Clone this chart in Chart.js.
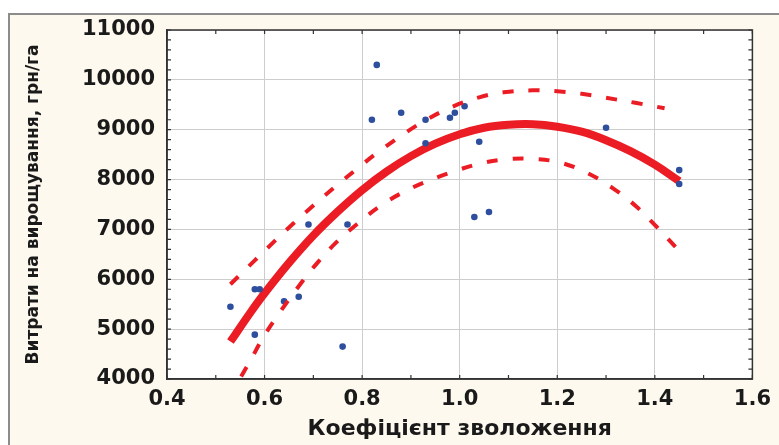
<!DOCTYPE html>
<html>
<head>
<meta charset="utf-8">
<script src="https://cdn.jsdelivr.net/npm/chart.js@4.4.1/dist/chart.umd.min.js"></script>
<style>
  html, body { margin: 0; padding: 0; background: #ffffff; }
  .frame {
    position: absolute; left: 8px; top: 13px; width: 800px; height: 460px;
    border-top: 2px solid #8c8c8c; border-left: 2px solid #8c8c8c;
    background: #fdf9ee;
  }
  .wrap { position: absolute; left: 0; top: 0; width: 779px; height: 445px; }
</style>
</head>
<body>
<div class="frame"></div>
<div class="wrap"><canvas id="chart" width="779" height="445"></canvas></div>
<script>
// observed points: moisture coefficient vs growing cost
const moistureX = [0.53, 0.58, 0.58, 0.59, 0.64, 0.67, 0.69, 0.76, 0.77, 0.82, 0.83, 0.88,
  0.93, 0.93, 0.98, 0.99, 1.01, 1.03, 1.04, 1.06, 1.30, 1.45, 1.45];
const costY = [5450, 4890, 5800, 5800, 5560, 5650, 7100, 4650, 7100, 9200, 10300, 9340,
  8730, 9200, 9240, 9340, 9470, 7250, 8760, 7350, 9040, 8190, 7910];

// fitted curve
const fitX = [0.53, 0.57, 0.60, 0.65, 0.70, 0.75, 0.80, 0.85, 0.90, 0.95, 1.00, 1.05,
  1.10, 1.15, 1.20, 1.25, 1.30, 1.35, 1.40, 1.45];
const fitY = [4750, 5320, 5720, 6330, 6880, 7360, 7790, 8160, 8470, 8720, 8910, 9040,
  9100, 9110, 9060, 8960, 8790, 8570, 8300, 7970];

// confidence band (dashed)
const upX = [0.53, 0.58, 0.62, 0.66, 0.70, 0.745, 0.79, 0.83, 0.88, 0.93, 0.985, 1.04,
  1.09, 1.15, 1.20, 1.25, 1.30, 1.36, 1.42];
const upY = [5900, 6380, 6760, 7130, 7480, 7860, 8220, 8530, 8880, 9190, 9460, 9650,
  9750, 9790, 9770, 9720, 9640, 9540, 9430];
const lowX = [0.552, 0.572, 0.594, 0.62, 0.677, 0.71, 0.748, 0.79, 0.837, 0.887, 0.942,
  0.996, 1.05, 1.10, 1.155, 1.206, 1.26, 1.315, 1.362, 1.403, 1.445];
const lowY = [4050, 4390, 4780, 5180, 5950, 6350, 6750, 7110, 7470, 7760, 8000,
  8190, 8340, 8410, 8410, 8340, 8140, 7820, 7460, 7060, 6620];

const xTitle = "Коефіцієнт зволоження";
const yTitle = "Витрати на вирощування, грн/га";

const toPoints = (xs, ys) => xs.map((x, i) => ({ x: x, y: ys[i] }));

const fontFamily = "'DejaVu Sans', sans-serif";
const red = "#ec1c24";

// white plot area, frame and small inward ticks
const plotFrame = {
  id: "plotFrame",
  beforeDatasetsDraw(chart) {
    const { ctx, chartArea: a } = chart;
    ctx.save();
    ctx.globalCompositeOperation = "destination-over";
    ctx.fillStyle = "#ffffff";
    ctx.fillRect(a.left, a.top, a.right - a.left, a.bottom - a.top);
    ctx.restore();
  },
  afterDraw(chart) {
    const { ctx, chartArea: a, scales } = chart;
    ctx.save();
    ctx.strokeStyle = "#333333";
    ctx.lineWidth = 1.5;
    ctx.strokeRect(a.left, a.top, a.right - a.left, a.bottom - a.top);
    ctx.lineWidth = 1.2;
    ctx.beginPath();
    for (let v = 4; v <= 16; v++) {
      const px = scales.x.getPixelForValue(v / 10);
      ctx.moveTo(px, a.bottom); ctx.lineTo(px, a.bottom - 4);
      ctx.moveTo(px, a.top); ctx.lineTo(px, a.top + 4);
    }
    for (let v = 4000; v <= 11000; v += 200) {
      const py = scales.y.getPixelForValue(v);
      ctx.moveTo(a.left, py); ctx.lineTo(a.left + 4, py);
      ctx.moveTo(a.right, py); ctx.lineTo(a.right - 4, py);
    }
    ctx.stroke();
    ctx.restore();
  },
};

new Chart(document.getElementById("chart"), {
  type: "scatter",
  data: {
    datasets: [
      {
        label: "upper",
        data: toPoints(upX, upY),
        showLine: true,
        borderColor: red,
        borderWidth: 4,
        borderDash: [11, 15],
        pointRadius: 0,
        tension: 0.4,
        order: 0,
      },
      {
        label: "lower",
        data: toPoints(lowX, lowY),
        showLine: true,
        borderColor: red,
        borderWidth: 4,
        borderDash: [11, 15],
        pointRadius: 0,
        tension: 0.4,
        order: 0,
      },
      {
        label: "points",
        data: toPoints(moistureX, costY),
        pointRadius: 3.3,
        pointBackgroundColor: "#2d4f9e",
        pointBorderWidth: 0,
        order: 1,
      },
      {
        label: "fit",
        data: toPoints(fitX, fitY),
        showLine: true,
        borderColor: red,
        borderWidth: 8,
        pointRadius: 0,
        tension: 0.4,
        order: 2,
      },
    ],
  },
  options: {
    responsive: false,
    animation: false,
    devicePixelRatio: 1,
    layout: { padding: { left: 0, top: 30, right: 22, bottom: 0 } },
    plugins: {
      legend: { display: false },
      tooltip: { enabled: false },
    },
    scales: {
      x: {
        type: "linear",
        min: 0.4,
        max: 1.6,
        afterFit: (scale) => { scale.height = 66; },
        ticks: {
          stepSize: 0.2,
          autoSkip: false,
          maxRotation: 0,
          padding: 8,
          color: "#1a1a1a",
          font: { family: fontFamily, size: 21, weight: "bold" },
          callback: (v) => Number(v).toFixed(1),
        },
        grid: { color: "#cdcdcd", lineWidth: 1, drawTicks: false },
        border: { display: true, color: "#333333", width: 1.5 },
        title: {
          display: true,
          text: xTitle,
          color: "#1a1a1a",
          font: { family: fontFamily, size: 22, weight: "bold" },
          padding: { top: 0, bottom: 3 },
        },
      },
      y: {
        min: 4000,
        max: 11000,
        afterFit: (scale) => { scale.width = 167; },
        ticks: {
          stepSize: 1000,
          padding: 12,
          color: "#1a1a1a",
          font: { family: fontFamily, size: 21, weight: "bold" },
          callback: (v) => String(v),
        },
        grid: { color: "#cdcdcd", lineWidth: 1, drawTicks: false },
        border: { display: true, color: "#333333", width: 1.5 },
        title: {
          display: true,
          text: yTitle,
          color: "#1a1a1a",
          font: { family: fontFamily, size: 17, weight: "bold" },
          padding: { top: 23, bottom: 0 },
        },
      },
    },
  },
  plugins: [plotFrame],
});
</script>
</body>
</html>
